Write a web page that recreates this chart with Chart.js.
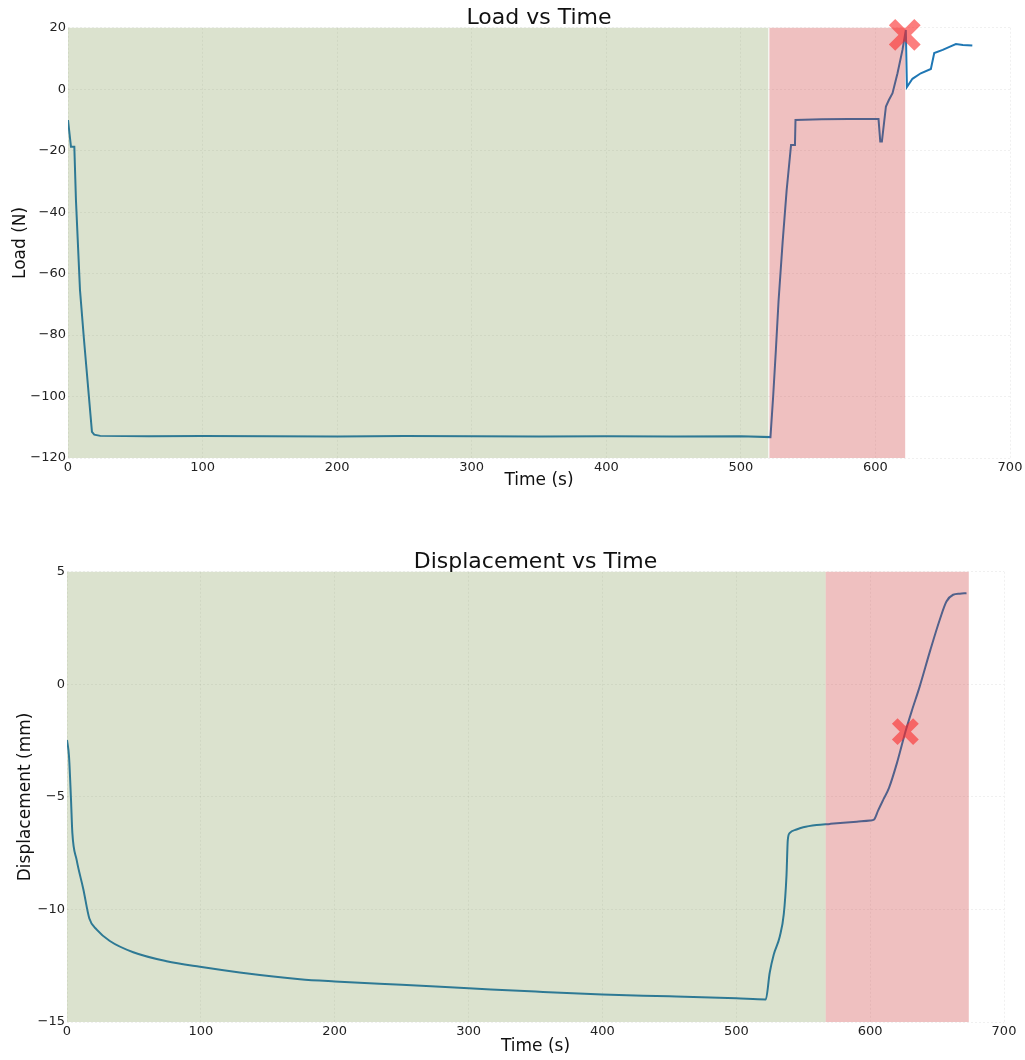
<!DOCTYPE html>
<html>
<head>
<meta charset="utf-8">
<title>Load and Displacement vs Time</title>
<script src="https://cdn.jsdelivr.net/npm/chart.js@4.4.1/dist/chart.umd.min.js"></script>
<style>
  html, body { margin: 0; padding: 0; background: #fff; }
  canvas { display: block; }
</style>
</head>
<body>
<canvas id="loadChart" width="1025" height="510"></canvas>
<canvas id="dispChart" width="1025" height="550"></canvas>
<script>
// values
const timeTicks = [0, 100, 200, 300, 400, 500, 600, 700];
const loadTicks = [-120, -100, -80, -60, -40, -20, 0, 20];
const dispTicks = [-15, -10, -5, 0, 5];

const loadTime = [0, 2.2, 4.7, 5.9, 8.9, 11.9, 17.8, 19.5, 24, 60, 100, 150, 200, 250, 300, 350, 400, 450, 500, 522,
  524, 526, 528, 531, 534, 537.3, 540.2, 540.6, 560, 580, 602.3, 603.6, 604.8, 607.8, 610, 612.7, 616.4, 620.1, 622.6,
  623.4, 627.5, 633.7, 641.2, 643.7, 650, 655, 659.8, 665, 672];
const loadValues = [-10, -18.7, -18.7, -36, -65.3, -81.6, -111.5, -112.4, -112.8, -112.9, -112.8, -112.9, -113, -112.8, -112.9, -113, -112.9, -113, -112.9, -113.2,
  -100, -85, -69, -50, -33, -18.1, -18.1, -10, -9.8, -9.7, -9.7, -17, -17, -5.6, -3.5, -1.3, 5.2, 12.8, 19.3,
  0.7, 3.4, 5.2, 6.6, 11.8, 12.8, 13.8, 14.7, 14.4, 14.2];

const dispTime = [0, 1.5, 3, 4, 7.2, 12.2, 16.7, 22.2, 32, 49.5, 74.4, 99.3, 129, 174, 200, 250, 300, 350, 400, 450, 500, 522,
  525, 528, 532.5, 535.5, 537.5, 538.5, 540, 545, 550, 560, 570, 580, 590, 600, 603, 606, 610, 614.1, 620, 626.3,
  631, 637, 645, 652, 657, 662, 667, 672];
const dispValues = [-2.47, -3.2, -5.13, -6.6, -7.8, -9.1, -10.4, -10.9, -11.4, -11.9, -12.3, -12.55, -12.8, -13.1, -13.2, -13.35, -13.5, -13.65, -13.78, -13.86, -13.95, -14.0,
  -12.8, -12.0, -11.2, -10.2, -8.5, -6.9, -6.6, -6.45, -6.35, -6.25, -6.2, -6.15, -6.1, -6.05, -6.0, -5.6, -5.1, -4.6, -3.5, -2.12,
  -1.2, -0.1, 1.53, 2.87, 3.68, 3.98, 4.03, 4.05];

// failure points
const loadFailTime = [621.8];
const loadFailValue = [17.7];
const dispFailTime = [626.3];
const dispFailValue = [-2.1];

// shaded phases (time ranges)
const loadHoldSpan = [0, 520.4];
const loadBreakSpan = [521.2, 622.1];
const dispHoldSpan = [0, 566.8];
const dispBreakSpan = [566.8, 673.7];

const FONT = 'DejaVu Sans';
const lineColor = '#1f77b4';
const markColor = 'rgba(250, 40, 40, 0.6)';
const holdColor = 'rgba(98, 129, 42, 0.23)';
const breakColor = 'rgba(201, 45, 45, 0.3)';
const gridColor = 'rgba(0,0,0,0.06)';

const minus = v => (v < 0 ? '\u2212' + Math.abs(v) : String(v));
const toPoints = (xs, ys) => xs.map((x, i) => ({ x: x, y: ys[i] }));

// shade drawn over the line (like the original), marker goes on top after it
const spanShade = {
  id: 'spanShade',
  afterDatasetDraw(chart, args, opts) {
    if (args.index !== 1) return;
    const { ctx, chartArea, scales } = chart;
    ctx.save();
    opts.spans.forEach(sp => {
      const x0 = scales.x.getPixelForValue(sp.from);
      const x1 = scales.x.getPixelForValue(sp.to);
      ctx.fillStyle = sp.color;
      ctx.fillRect(x0, chartArea.top, x1 - x0, chartArea.bottom - chartArea.top);
    });
    ctx.restore();
  }
};

function buildChart(id, o) {
  return new Chart(document.getElementById(id), {
    type: 'line',
    data: {
      datasets: [
        {
          data: toPoints(o.markX, o.markY),
          showLine: false,
          clip: false,
          pointStyle: 'crossRot',
          pointRadius: o.markSize,
          pointBorderWidth: o.markWidth,
          pointBorderColor: markColor,
          pointBackgroundColor: markColor
        },
        {
          data: toPoints(o.x, o.y),
          borderColor: lineColor,
          borderWidth: 2,
          pointRadius: 0,
          tension: 0,
          cubicInterpolationMode: o.smooth ? 'monotone' : 'default'
        }
      ]
    },
    options: {
      responsive: false,
      animation: false,
      devicePixelRatio: 1,
      layout: { autoPadding: false, padding: { top: o.padTop, right: o.padRight, left: 0, bottom: 0 } },
      plugins: {
        legend: { display: false },
        tooltip: { enabled: false },
        title: {
          display: true,
          text: o.title,
          fullSize: false,
          color: '#111',
          font: { family: FONT, size: 22, weight: 'normal', lineHeight: 0.9 },
          padding: { top: 0, bottom: 0 }
        },
        spanShade: { spans: o.spans }
      },
      scales: {
        x: {
          type: 'linear',
          min: 0,
          max: 700,
          afterBuildTicks: s => { s.ticks = timeTicks.map(v => ({ value: v })); },
          afterFit: s => {
            s.height = o.xAxisHeight;
            s.paddingLeft = 0;
            s.paddingRight = 0;
          },
          grid: { color: gridColor, drawTicks: false },
          border: { display: false, dash: [2, 2] },
          ticks: { font: { family: FONT, size: 13 }, color: '#222', padding: 2, maxRotation: 0, callback: minus },
          title: { display: true, text: 'Time (s)', color: '#111', font: { family: FONT, size: 17 }, padding: { top: 0, bottom: o.xTitlePad } }
        },
        y: {
          min: o.yTicks[0],
          max: o.yTicks[o.yTicks.length - 1],
          afterBuildTicks: s => { s.ticks = o.yTicks.map(v => ({ value: v })); },
          afterFit: s => {
            s.width = o.yAxisWidth;
            s.paddingTop = 0;
            s.paddingBottom = 0;
          },
          grid: { color: gridColor, drawTicks: false },
          border: { display: false, dash: [2, 2] },
          ticks: { font: { family: FONT, size: 13 }, color: '#222', padding: 2, callback: minus },
          title: { display: true, text: o.yLabel, color: '#111', font: { family: FONT, size: 17 }, padding: { top: o.yTitlePad, bottom: 0 } }
        }
      }
    },
    plugins: [spanShade]
  });
}

buildChart('loadChart', {
  title: 'Load vs Time',
  yLabel: 'Load (N)',
  x: loadTime, y: loadValues,
  markX: loadFailTime, markY: loadFailValue,
  markSize: 18, markWidth: 9,
  yTicks: loadTicks,
  spans: [
    { from: loadHoldSpan[0], to: loadHoldSpan[1], color: holdColor },
    { from: loadBreakSpan[0], to: loadBreakSpan[1], color: breakColor }
  ],
  smooth: false,
  padTop: 8, padRight: 15,
  xAxisHeight: 52, yAxisWidth: 68,
  xTitlePad: 19, yTitlePad: 10
});

buildChart('dispChart', {
  title: 'Displacement vs Time',
  yLabel: 'Displacement (mm)',
  x: dispTime, y: dispValues,
  markX: dispFailTime, markY: dispFailValue,
  markSize: 15, markWidth: 8,
  yTicks: dispTicks,
  spans: [
    { from: dispHoldSpan[0], to: dispHoldSpan[1], color: holdColor },
    { from: dispBreakSpan[0], to: dispBreakSpan[1], color: breakColor }
  ],
  smooth: true,
  padTop: 42, padRight: 21,
  xAxisHeight: 38, yAxisWidth: 67,
  xTitlePad: 3, yTitlePad: 15
});
</script>
</body>
</html>
